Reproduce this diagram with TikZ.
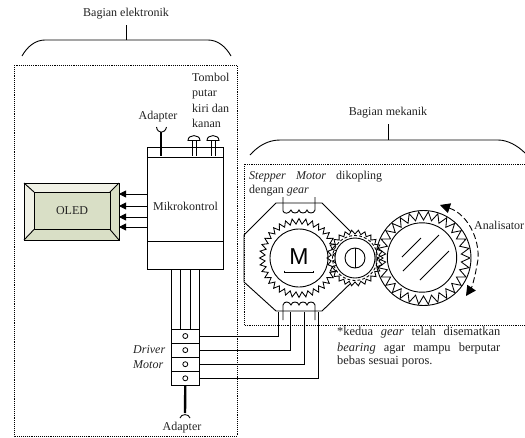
\documentclass[tikz,border=0pt]{standalone}
\usepackage{fontspec}
\setmainfont{Liberation Serif}
\usetikzlibrary{arrows.meta}
\definecolor{oledin}{HTML}{D9DFC6}
\definecolor{oledlt}{HTML}{F0F1E6}
\definecolor{ink}{HTML}{222222}
\newcommand{\gearzig}[6]{% cx cy rout rin n options
  \pgfmathsetmacro{\gstep}{360/(2*#5)}
  \pgfmathsetmacro{\glast}{2*#5-1}
  \path[#6] ({#1+#3},{#2}) \foreach \gi in {1,...,\glast} {
    -- ({#1+(#3*(1+cos(\gi*180))/2+#4*(1-cos(\gi*180))/2)*cos(\gi*\gstep)},{#2+(#3*(1+cos(\gi*180))/2+#4*(1-cos(\gi*180))/2)*sin(\gi*\gstep)})
  } -- cycle;
}
\tikzset{
  x=1pt,y=-1pt,
  lbl/.style={font=\fontsize{12}{15.6}\selectfont,inner sep=0pt,text=ink},
  smalllbl/.style={font=\fontsize{12.4}{15}\selectfont,inner sep=0pt,text=ink},
  frame/.style={draw=black,densely dotted,line width=0.9pt},
  wire/.style={draw=black,line width=0.9pt},
  thin wire/.style={draw=black,line width=0.85pt},
  boxx/.style={draw=black,line width=0.9pt,fill=white,inner sep=0pt,minimum width=#1},
  arr/.style={wire,-{Triangle[length=7pt,width=7pt]}},
  hole/.style={circle,draw=black,line width=0.8pt,fill=white,inner sep=0pt,minimum size=5pt},
}
\begin{document}
\begin{tikzpicture}
\useasboundingbox (0,0) rectangle (525,437);
% frames
\draw[frame] (14,65) rectangle (237,436);
\draw[frame] (525,164) -- (244,164) -- (244,325) -- (525,325);
% braces
\node[lbl] (tEl) at (126,14) {Bagian elektronik};
\coordinate (elS) at (126,40);
\draw[wire] (126,25) -- (elS);
\draw[wire] (22,56) .. controls (27,47) and (35,40) .. (45,40) -- (208,40) .. controls (218,40) and (226,47) .. (231,56);
\node[lbl] (tMe) at (388,113) {Bagian mekanik};
\coordinate (meS) at (388,140);
\draw[wire] (388,124) -- (meS);
\draw[wire] (250,155) .. controls (258,146) and (268,140) .. (280,140) -- (498,140) .. controls (508,140) and (518,146) .. (525,153);
% micro
\node[boxx=76pt,minimum height=122pt] (micro) at (185,208) {};
\draw[wire] (147,157) -- (223,157);
\draw[wire] (147,241) -- (223,241);
\node[lbl] (tMk) at (185.5,206) {Mikrokontrol};
% adapter top
\node[lbl] (tA1) at (158,117) {Adapter};
\coordinate (cupT) at (161,132);
\draw[line width=1.2pt] (cupT) -- (161,156);
\draw[wire] (156.5,127) .. controls (157.5,134) and (165,134) .. (166.5,127);
% knobs
\node[lbl,align=left,anchor=north west] (tTb) at (192,72.5) {Tombol\\putar\\kiri dan\\kanan};
\foreach \kx in {194,213}{
  \draw[wire] (\kx-2,141) -- (\kx-2,156) (\kx+2,141) -- (\kx+2,156);
  \draw[wire,fill=white] (\kx-6,140.5) .. controls (\kx-6,134) and (\kx+6,134) .. (\kx+6,140.5) -- cycle;
}
% OLED
\fill[oledin] (24,183) rectangle (119,240);
\fill[oledlt] (24,183) -- (119,183) -- (110,192) -- (34,192) -- (34,229.5) -- (24,240) -- cycle;
\draw[wire] (24,183) rectangle (119,240);
\draw[wire] (34,192) rectangle (110,229.5);
\draw[wire] (24,183) -- (34,192) (119,183) -- (110,192) (24,240) -- (34,229.5) (119,240) -- (110,229.5);
\node[lbl] (tOl) at (72,211) {OLED};
\coordinate (o1) at (119,194);\coordinate (o2) at (119,206);\coordinate (o3) at (119,217);\coordinate (o4) at (119,227);
\foreach \o in {o1,o2,o3,o4}{\draw[arr] (micro.west |- \o) -- (\o);}
% driver
\node[boxx=28.5pt,minimum height=14.1pt] (d1) at (185.3,336) {};
\node[boxx=28.5pt,minimum height=14.1pt] (d2) at (185.3,350.1) {};
\node[boxx=28.5pt,minimum height=14.1pt] (d3) at (185.3,364.2) {};
\node[boxx=28.5pt,minimum height=14.1pt] (d4) at (185.3,378.3) {};
\foreach \d in {d1,d2,d3,d4}{\node[hole] (h\d) at (\d) {};}
\foreach \lx in {171.2,180,190,199.5}{\draw[wire] (\lx,269) -- (\lx,329);}
\node[lbl,align=left,anchor=west] (tDr) at (133,357) {\textit{Driver}\\\textit{Motor}};
\coordinate (cupB) at (185,413);
\draw[line width=2.4pt] (d4.south) -- (cupB);
\draw[wire] (180,418) .. controls (181,413.5) and (189,413.5) .. (190,418);
\node[lbl] (tA2) at (182,428) {Adapter};
% octagon
\draw[wire] (276,203) -- (322,203) -- (352,233) -- (352,282) -- (322,311) -- (276,311) -- (244,282) -- (244,235) -- cycle;
% coils
\coordinate (c1) at (283,197);\coordinate (c2) at (315,197);
\draw[wire] (c1) -- (283,211) .. controls (284,214) and (289,214) .. (291,210) .. controls (292,214) and (298,214) .. (299,210) .. controls (300,214) and (306,214) .. (307,210) .. controls (308,214) and (314,214) .. (315,210) -- (c2);
\coordinate (c3) at (283,320);\coordinate (c4) at (315,320);
\draw[wire] (c3) -- (283,305) .. controls (284,301) and (289,301) .. (291,305) .. controls (292,301) and (298,301) .. (299,305) .. controls (300,301) and (306,301) .. (307,305) .. controls (308,301) and (314,301) .. (315,305) -- (c4);
% wires
\coordinate (w1) at (278,312);\coordinate (w2) at (290.5,312);\coordinate (w3) at (304.5,312);\coordinate (w4) at (318,312);
\draw[wire] (d1.east) -- (d1.east -| w1) -- (w1);
\draw[wire] (d2.east) -- (d2.east -| w2) -- (w2);
\draw[wire] (d3.east) -- (d3.east -| w3) -- (w3);
\draw[wire] (d4.east) -- (d4.east -| w4) -- (w4);
% gear fills
\gearzig{299}{258}{39.5}{34}{36}{fill=white}
\gearzig{355}{258}{28}{24}{26}{fill=white}
\fill[white] (423.5,258) circle (48);
% gear strokes
\gearzig{299}{258}{39.5}{34}{36}{thin wire}
\draw[wire,fill=white] (299,258) circle (29);
\gearzig{355}{258}{28}{24}{26}{thin wire}
\draw[thin wire,densely dashed] (355,258) circle (22.5);
\draw[wire,fill=white] (355,258) circle (20);
\draw[wire] (355,258) circle (10);
\draw[wire] (355,248) -- (355,268);
% M
\node[font=\fontspec{Liberation Sans}\fontsize{23}{25}\selectfont,inner sep=0pt] (tM) at (299,257) {M};
\coordinate (mL) at (284,270.5);\coordinate (mR) at (313,270.5);
\draw[wire] (mL) -- (284,272.5) -- (313,272.5) -- (mR);
% analyser gear
\draw[wire] (423.5,258) circle (47.5);
\gearzig{423.5}{258}{46.5}{38}{30}{thin wire}
\draw[wire] (422,257.5) circle (34.7);
\coordinate (g1) at (402,257);\coordinate (g2) at (421,238);
\coordinate (g3) at (403,271);\coordinate (g4) at (439,235);
\coordinate (g5) at (420,280);\coordinate (g6) at (449,251);
\draw[wire] (g1) -- (g2) (g3) -- (g4) (g5) -- (g6);
% arc arrow
\draw[wire,dashed,dash pattern=on 6pt off 3pt,{Triangle[length=10pt,width=10pt]}-{Triangle[length=10pt,width=10pt]}] (440,205) .. controls (470,215) and (482,245) .. (477,265) .. controls (475,277) and (472,287) .. (466,296);
\node[lbl,anchor=west] (tAn) at (474,225) {Analisator};
% texts
\node[lbl,anchor=west] (tS1) at (249,177) {\makebox[133pt][s]{\textit{Stepper} \textit{Motor} dikopling}};
\node[lbl,anchor=west] (tS2) at (249,191) {dengan \textit{gear}};
\node[smalllbl,anchor=west] (tN1) at (337,333) {\makebox[163pt][s]{*kedua \textit{gear} telah disematkan}};
\node[smalllbl,anchor=west] (tN2) at (337,349) {\makebox[163pt][s]{\textit{bearing} agar mampu berputar}};
\node[smalllbl,anchor=west] (tN3) at (337,362) {bebas sesuai poros.};
\end{tikzpicture}
\end{document}
